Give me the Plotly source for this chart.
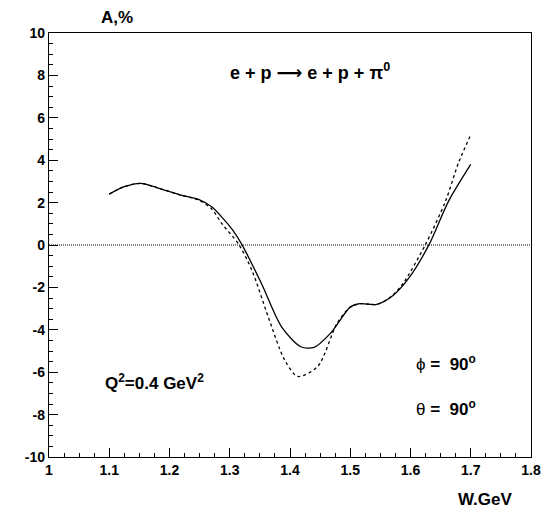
import plotly.graph_objects as go

# Solid curve
w_solid = [1.10, 1.125, 1.152, 1.18, 1.217, 1.25, 1.27, 1.288, 1.305, 1.32, 1.353, 1.386, 1.418, 1.44, 1.467, 1.50, 1.516, 1.544, 1.571, 1.598, 1.631, 1.663, 1.70]
a_solid = [2.4, 2.75, 2.91, 2.7, 2.37, 2.13, 1.8, 1.28, 0.7, 0.03, -1.84, -3.86, -4.8, -4.83, -4.17, -2.93, -2.77, -2.8, -2.38, -1.53, 0.03, 2.06, 3.8]

# Dashed curve
w_dash = [1.10, 1.125, 1.152, 1.18, 1.217, 1.25, 1.27, 1.288, 1.315, 1.337, 1.364, 1.391, 1.413, 1.446, 1.478, 1.50, 1.516, 1.544, 1.565, 1.587, 1.625, 1.658, 1.68, 1.70]
a_dash = [2.4, 2.75, 2.91, 2.7, 2.37, 2.1, 1.7, 0.97, 0.03, -1.21, -3.4, -5.42, -6.2, -5.73, -3.7, -2.93, -2.77, -2.8, -2.5, -1.84, 0.03, 2.06, 3.9, 5.2]

x_range = [1.0, 1.8]
y_range = [-10, 10]
x_ticks = [1, 1.1, 1.2, 1.3, 1.4, 1.5, 1.6, 1.7, 1.8]
x_tick_labels = ["1", "1.1", "1.2", "1.3", "1.4", "1.5", "1.6", "1.7", "1.8"]
y_ticks = [-10, -8, -6, -4, -2, 0, 2, 4, 6, 8, 10]
y_tick_labels = ["<b>%d</b>" % v for v in y_ticks]

FONT = "Liberation Sans, Arial, sans-serif"

fig = go.Figure()
fig.add_trace(go.Scatter(x=x_range, y=[0, 0], mode="lines",
                         line=dict(color="black", width=1, dash="1px,1px"),
                         showlegend=False, hoverinfo="skip"))
fig.add_trace(go.Scatter(x=w_solid, y=a_solid, mode="lines",
                         line=dict(color="black", width=1.3, shape="spline", smoothing=0.8),
                         showlegend=False))
fig.add_trace(go.Scatter(x=w_dash, y=a_dash, mode="lines",
                         line=dict(color="black", width=1.3, shape="spline", smoothing=0.8, dash="3px,3px"),
                         showlegend=False))

fig.update_layout(
    width=553, height=512,
    margin=dict(l=49, r=17, t=33, b=55),
    paper_bgcolor="white", plot_bgcolor="white",
    font=dict(family=FONT, size=14, color="black"),
    showlegend=False,
    xaxis=dict(range=x_range, tickvals=x_ticks, ticktext=["<b>%s</b>" % t for t in x_tick_labels],
               showgrid=False, zeroline=False, showline=True, linecolor="black", linewidth=1.3,
               mirror=True, ticks="inside", ticklen=9, tickwidth=1, tickcolor="black",
               minor=dict(dtick=0.025, ticks="inside", ticklen=4, tickcolor="black"),
               tickfont=dict(family=FONT, size=14, color="black")),
    yaxis=dict(range=y_range, tickvals=y_ticks, ticktext=y_tick_labels,
               showgrid=False, zeroline=False, showline=True, linecolor="black", linewidth=1.3,
               mirror=True, ticks="inside", ticklen=9, tickwidth=1, tickcolor="black",
               minor=dict(dtick=0.5, ticks="inside", ticklen=4, tickcolor="black"),
               tickfont=dict(family=FONT, size=14, color="black")),
)

def ann(x, y, text, size=17):
    fig.add_annotation(x=x, y=y, xref="paper", yref="paper", text="<b>" + text + "</b>",
                       showarrow=False, xanchor="center", yanchor="middle",
                       font=dict(family=FONT, size=size, color="black"))

ann(0.142, 1.036, "A,%", 17)
ann(0.905, -0.101, "W.GeV", 17)
ann(0.541, 0.91, "e + p <span style='font-family:DejaVu Sans'>\u27f6</span> e + p + \u03c0<sup>0</sup>", 18)
ann(0.218, 0.177, "Q<sup>2</sup>=0.4 GeV<sup>2</sup>", 17)
ann(0.823, 0.222, "<span style='font-weight:normal'>\u03d5</span> =  90<sup>o</sup>", 17)
ann(0.823, 0.115, "<span style='font-weight:normal'>\u03b8</span> =  90<sup>o</sup>", 17)

fig.write_html("out.html")
